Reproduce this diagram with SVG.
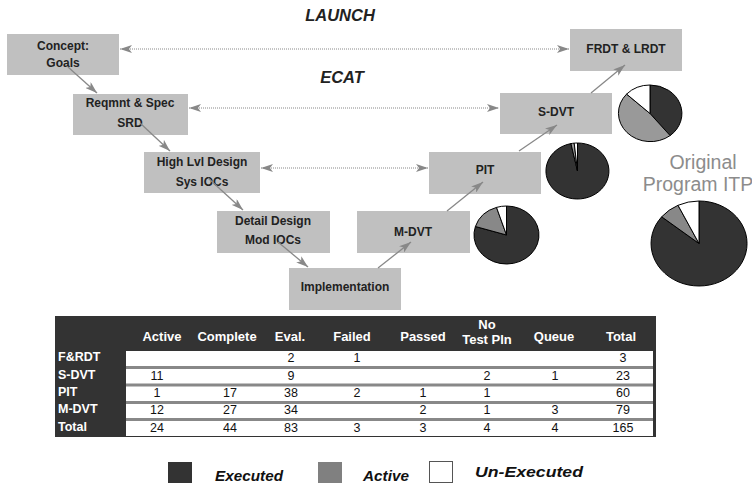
<svg xmlns="http://www.w3.org/2000/svg" width="752" height="485" viewBox="0 0 752 485">
<defs>
<style>
.box{fill:#c0c0c0}
.nt{font-family:"Liberation Sans",Arial,sans-serif;font-size:12px;font-weight:bold;fill:#222;text-anchor:middle}
.ttl{font-family:"Liberation Sans",Arial,sans-serif;font-size:16.5px;font-weight:bold;font-style:italic;fill:#222;text-anchor:middle}
.dot{stroke:#888;stroke-width:1;stroke-dasharray:1 1;fill:none}
.arr{stroke:#888;stroke-width:1.3;fill:none}
.pie{stroke:#000;stroke-width:1;stroke-linejoin:round}
.dk{fill:#333}
.gr{fill:#999}
.wh{fill:#fff}
.th{font-family:"Liberation Sans",Arial,sans-serif;font-size:13px;font-weight:bold;fill:#fff;text-anchor:middle}
.rl{font-family:"Liberation Sans",Arial,sans-serif;font-size:12.5px;font-weight:bold;fill:#fff}
.td{font-family:"Liberation Sans",Arial,sans-serif;font-size:12.5px;fill:#111;text-anchor:middle}
.lg{font-family:"Liberation Sans",Arial,sans-serif;font-size:14px;font-weight:bold;font-style:italic;fill:#111}
</style>
<marker id="ah" viewBox="0 0 12 8" refX="12" refY="4" markerWidth="12" markerHeight="8" markerUnits="userSpaceOnUse" orient="auto-start-reverse">
<path d="M0,0 L12,4 L0,8 L3,4 Z" fill="#888"/>
</marker>
</defs>
<rect width="752" height="485" fill="#fff"/>

<text class="ttl" x="340" y="21">LAUNCH</text>
<text class="ttl" x="342" y="83">ECAT</text>

<g id="concept"><rect class="box" x="7" y="34" width="112" height="41"/><text class="nt" x="63" y="50">Concept:</text><text class="nt" x="63" y="67">Goals</text></g>
<g id="reqmnt"><rect class="box" x="73" y="94" width="115" height="41"/><text class="nt" x="130" y="107">Reqmnt &amp; Spec</text><text class="nt" x="130" y="127">SRD</text></g>
<g id="highlvl"><rect class="box" x="144" y="152" width="116" height="41"/><text class="nt" x="202" y="166">High Lvl Design</text><text class="nt" x="202" y="186">Sys IOCs</text></g>
<g id="detail"><rect class="box" x="217" y="211" width="113" height="42"/><text class="nt" x="273" y="225">Detail Design</text><text class="nt" x="273" y="244">Mod IOCs</text></g>
<g id="impl"><rect class="box" x="289" y="268" width="112" height="42"/><text class="nt" x="345" y="291">Implementation</text></g>
<g id="mdvt"><rect class="box" x="357" y="211" width="113" height="42"/><text class="nt" x="413" y="236">M-DVT</text></g>
<g id="pit"><rect class="box" x="429" y="152" width="112" height="42"/><text class="nt" x="485" y="174">PIT</text></g>
<g id="sdvt"><rect class="box" x="500" y="93" width="112" height="41"/><text class="nt" x="556" y="116">S-DVT</text></g>
<g id="frdt"><rect class="box" x="570" y="29" width="112" height="42"/><text class="nt" x="626" y="53">FRDT &amp; LRDT</text></g>

<g id="connectors">
<line class="dot" x1="120" y1="49" x2="569" y2="49" marker-start="url(#ah)" marker-end="url(#ah)"/>
<line class="dot" x1="189" y1="108" x2="499" y2="108" marker-start="url(#ah)" marker-end="url(#ah)"/>
<line class="dot" x1="261" y1="168" x2="428" y2="168" marker-start="url(#ah)" marker-end="url(#ah)"/>
<line class="arr" x1="68" y1="67" x2="97" y2="93" marker-end="url(#ah)"/>
<line class="arr" x1="140" y1="123" x2="170" y2="151" marker-end="url(#ah)"/>
<line class="arr" x1="208" y1="178" x2="243" y2="210" marker-end="url(#ah)"/>
<line class="arr" x1="278" y1="242" x2="308" y2="267" marker-end="url(#ah)"/>
<line class="arr" x1="378" y1="268" x2="411" y2="242" marker-end="url(#ah)"/>
<line class="arr" x1="447" y1="211" x2="483" y2="182" marker-end="url(#ah)"/>
<line class="arr" x1="519" y1="151" x2="557" y2="125" marker-end="url(#ah)"/>
<line class="arr" x1="591" y1="93" x2="625" y2="65" marker-end="url(#ah)"/>
</g>

<g id="pie-sdvt" class="pie">
<path class="dk" d="M650,113.5 L650,85 A32,28.5 0 0 1 670.1,135.6 Z"/>
<path class="gr" d="M650,113.5 L670.1,135.6 A32,28.5 0 0 1 626.6,94.1 Z"/>
<path class="wh" d="M650,113.5 L626.6,94.1 A32,28.5 0 0 1 650,85 Z"/>
</g>
<g id="pie-pit" class="pie">
<path class="dk" d="M577.5,171 L577.5,143 A31.5,28 0 1 1 570.95,143.6 Z"/>
<path class="gr" d="M577.5,171 L570.95,143.6 A31.5,28 0 0 1 574.2,143.15 Z"/>
<path class="wh" d="M577.5,171 L574.2,143.15 A31.5,28 0 0 1 577.5,143 Z"/>
</g>
<g id="pie-mdvt" class="pie">
<path class="dk" d="M506.5,235 L506.5,206 A32.5,29 0 1 1 475.4,226.5 Z"/>
<path style="fill:#888" d="M506.5,235 L475.4,226.5 A32.5,29 0 0 1 496.5,207.4 Z"/>
<path class="wh" d="M506.5,235 L496.5,207.4 A32.5,29 0 0 1 506.5,206 Z"/>
</g>
<g id="pie-original" class="pie">
<path class="dk" d="M699,243.5 L699,201 A48,42.5 0 1 1 661.7,216.8 Z"/>
<path style="fill:#888" d="M699,243.5 L661.7,216.8 A48,42.5 0 0 1 678,205.3 Z"/>
<path class="wh" d="M699,243.5 L678,205.3 A48,42.5 0 0 1 699,201 Z"/>
</g>
<g id="original-label" font-family="'Liberation Sans',Arial,sans-serif" font-size="19.5" fill="#8c8c8c" text-anchor="middle">
<text x="703" y="169">Original</text>
<text x="698" y="191">Program ITP</text>
</g>

<g id="table">
<rect x="55" y="316" width="601" height="121" fill="#333"/>
<rect x="126" y="351" width="527" height="85" fill="#fff"/>
<g stroke="#888" stroke-width="3">
<line x1="126" y1="367.5" x2="653" y2="367.5"/>
<line x1="126" y1="385" x2="653" y2="385"/>
<line x1="126" y1="402.5" x2="653" y2="402.5"/>
<line x1="126" y1="419.5" x2="653" y2="419.5"/>
</g>
<text class="th" x="162" y="341">Active</text>
<text class="th" x="227" y="341">Complete</text>
<text class="th" x="290" y="341">Eval.</text>
<text class="th" x="352" y="341">Failed</text>
<text class="th" x="423" y="341">Passed</text>
<text class="th" x="487" y="329">No</text>
<text class="th" x="487" y="344">Test Pln</text>
<text class="th" x="554" y="341">Queue</text>
<text class="th" x="621" y="341">Total</text>
<text class="rl" x="58" y="361">F&amp;RDT</text>
<text class="rl" x="58" y="379">S-DVT</text>
<text class="rl" x="58" y="396">PIT</text>
<text class="rl" x="58" y="413">M-DVT</text>
<text class="rl" x="58" y="431">Total</text>
<g>
<text class="td" x="291" y="362">2</text><text class="td" x="357" y="362">1</text><text class="td" x="623" y="362">3</text>
<text class="td" x="157" y="380">11</text><text class="td" x="291" y="380">9</text><text class="td" x="487" y="380">2</text><text class="td" x="555" y="380">1</text><text class="td" x="623" y="380">23</text>
<text class="td" x="157" y="397">1</text><text class="td" x="230" y="397">17</text><text class="td" x="291" y="397">38</text><text class="td" x="357" y="397">2</text><text class="td" x="423" y="397">1</text><text class="td" x="487" y="397">1</text><text class="td" x="623" y="397">60</text>
<text class="td" x="157" y="414">12</text><text class="td" x="230" y="414">27</text><text class="td" x="291" y="414">34</text><text class="td" x="423" y="414">2</text><text class="td" x="487" y="414">1</text><text class="td" x="555" y="414">3</text><text class="td" x="623" y="414">79</text>
<text class="td" x="157" y="432">24</text><text class="td" x="230" y="432">44</text><text class="td" x="291" y="432">83</text><text class="td" x="357" y="432">3</text><text class="td" x="423" y="432">3</text><text class="td" x="487" y="432">4</text><text class="td" x="555" y="432">4</text><text class="td" x="623" y="432">165</text>
</g>
</g>

<g id="legend">
<rect x="168" y="462" width="24" height="21" fill="#333"/>
<text class="lg" x="215" y="481" textLength="68" lengthAdjust="spacingAndGlyphs">Executed</text>
<rect x="318" y="462" width="24" height="21" fill="#808080"/>
<text class="lg" x="363" y="481" textLength="46" lengthAdjust="spacingAndGlyphs">Active</text>
<rect x="429.5" y="461.5" width="23" height="21" fill="#fff" stroke="#555" stroke-width="1"/>
<text class="lg" x="475" y="477" textLength="108" lengthAdjust="spacingAndGlyphs">Un-Executed</text>
</g>
</svg>
